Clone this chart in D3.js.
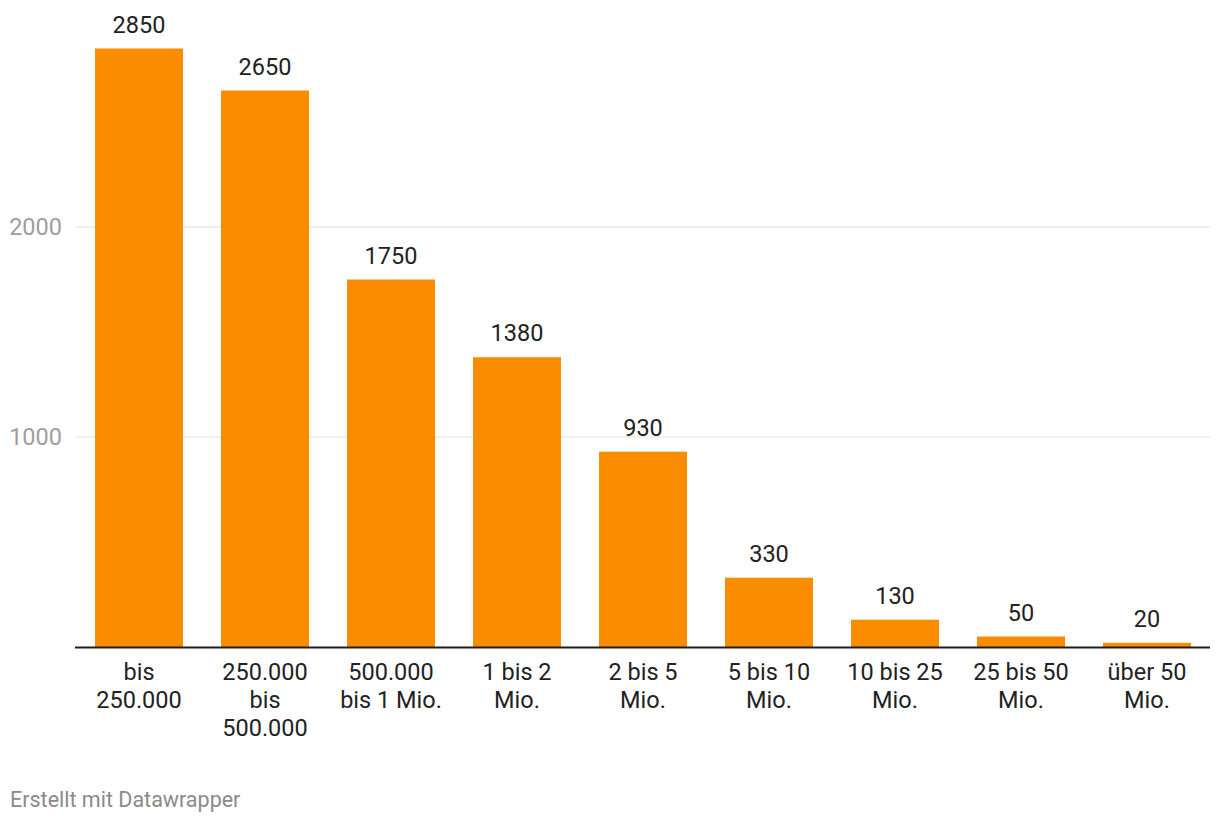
<!DOCTYPE html>
<html>
<head>
<meta charset="utf-8">
<script src="https://cdn.jsdelivr.net/npm/d3@7"></script>
<style>
  body { margin: 0; background: #fff; font-family: Roboto, "Noto Sans", sans-serif; }
</style>
</head>
<body>
<div id="chart"></div>
<script>
  var categories = [
    ["bis", "250.000"],
    ["250.000", "bis", "500.000"],
    ["500.000", "bis 1 Mio."],
    ["1 bis 2", "Mio."],
    ["2 bis 5", "Mio."],
    ["5 bis 10", "Mio."],
    ["10 bis 25", "Mio."],
    ["25 bis 50", "Mio."],
    ["über 50", "Mio."]
  ];
  var values = [2850, 2650, 1750, 1380, 930, 330, 130, 50, 20];
  var yTicks = [1000, 2000];

  var width = 1220,
      height = 824;

  var svg = d3.select("#chart")
              .append("svg")
              .attr("width", width)
              .attr("height", height);

  var x = d3.scaleBand()
            .domain(d3.range(values.length))
            .range([76, 1210])
            .paddingInner(0.3016)
            .paddingOuter(0.1508);

  var y = d3.scaleLinear()
            .domain([0, 1000])
            .range([647, 437]);

  // grid
  svg.selectAll('.grid')
    .data(yTicks)
    .enter()
    .append('line')
    .attr('x1', 76)
    .attr('x2', 1210)
    .attr('y1', d => y(d))
    .attr('y2', d => y(d))
    .attr('stroke', '#e0e0e0')
    .attr('stroke-width', 1);

  svg.selectAll('.ytick')
    .data(yTicks)
    .enter()
    .append('text')
    .attr('x', 62)
    .attr('y', d => y(d) + 8)
    .attr('text-anchor', 'end')
    .attr('font-size', 23.5)
    .attr('fill', '#9e9e9e')
    .text(d => d);

  // bars
  svg.selectAll('rect')
    .data(values)
    .enter()
    .append('rect')
    .attr('x', (d, i) => x(i))
    .attr('width', x.bandwidth())
    .attr('y', d => y(d))
    .attr('height', d => y(0) - y(d))
    .attr('fill', '#fa8c00');

  svg.selectAll('.val')
    .data(values)
    .enter()
    .append('text')
    .attr('x', (d, i) => x(i) + x.bandwidth() / 2)
    .attr('y', d => y(d) - 16)
    .attr('text-anchor', 'middle')
    .attr('font-size', 23.5)
    .attr('fill', '#222')
    .text(d => d);

  // baseline
  svg.append('line')
    .attr('x1', 75)
    .attr('x2', 1210)
    .attr('y1', y(0) + 0.5)
    .attr('y2', y(0) + 0.5)
    .attr('stroke', '#1d1d1d')
    .attr('stroke-width', 2);

  // category labels
  var cat = svg.selectAll('.cat')
    .data(categories)
    .enter()
    .append('text')
    .attr('text-anchor', 'middle')
    .attr('font-size', 23.5)
    .attr('fill', '#222');

  cat.selectAll('tspan')
    .data((d, i) => d.map(t => ({ t: t, i: i })))
    .enter()
    .append('tspan')
    .attr('x', d => x(d.i) + x.bandwidth() / 2)
    .attr('y', (d, j) => 680 + j * 28)
    .text(d => d.t);

  svg.append('text')
    .attr('x', 10)
    .attr('y', 807)
    .attr('font-size', 21.5)
    .attr('fill', '#8a8a8a')
    .text('Erstellt mit Datawrapper');
</script>
</body>
</html>
